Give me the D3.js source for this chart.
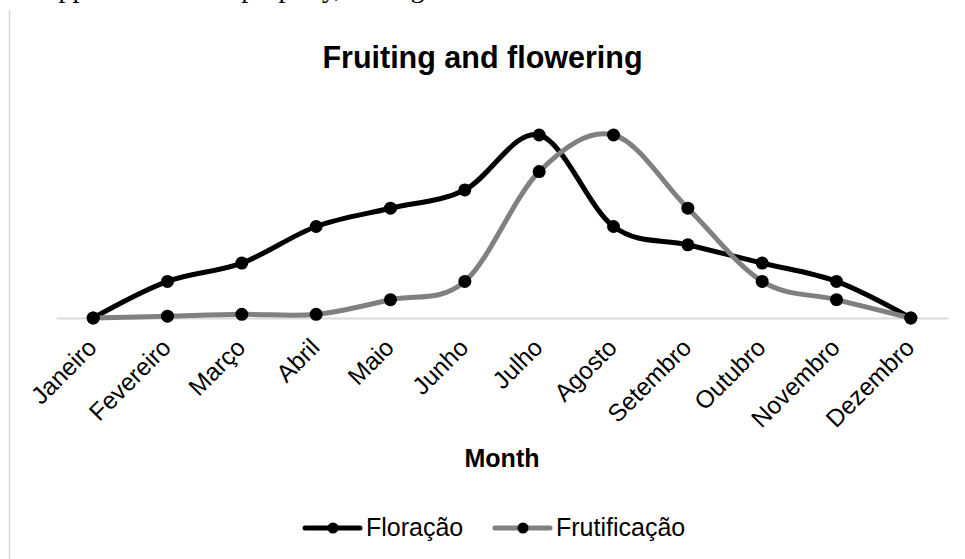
<!DOCTYPE html>
<html>
<head>
<meta charset="utf-8">
<script src="https://cdn.jsdelivr.net/npm/d3@7"></script>
<style>
  body { margin: 0; background: #fff; }
  svg { display: block; }
</style>
</head>
<body>
<div id="chart"></div>
<script>
const months = ['Janeiro', 'Fevereiro', 'Março', 'Abril', 'Maio', 'Junho',
  'Julho', 'Agosto', 'Setembro', 'Outubro', 'Novembro', 'Dezembro'];
const floracao = [0, 2, 3, 5, 6, 7, 10, 5, 4, 3, 2, 0];
const frutificacao = [0, 0.1, 0.2, 0.2, 1, 2, 8, 10, 6, 2, 1, 0];
const seriesNames = ['Floração', 'Frutificação'];
const seriesColors = ['#000000', '#808080'];

const width = 965, height = 559;
const font = 'Liberation Sans, Arial, sans-serif';

const svg = d3.select('#chart')
  .append('svg')
    .attr('width', width)
    .attr('height', height);

// cropped line of the surrounding document text
svg.append('text')
  .attr('x', -83).attr('y', -3)
  .attr('font-family', 'Liberation Serif, Times New Roman, serif')
  .attr('font-size', 28)
  .text('were well supported and fed properly, among the');

// chart frame (left edge only is visible)
svg.append('line')
  .attr('x1', 9.5).attr('x2', 9.5)
  .attr('y1', 10).attr('y2', height)
  .attr('stroke', '#d9d9d9').attr('stroke-width', 1.5);

const x = d3.scaleBand().domain(months).range([56, 948]);
const y = d3.scaleLinear().domain([0, 10]).range([318, 135]);

// category axis
const xAxis = svg.append('g')
  .attr('transform', `translate(0,${y(0)})`)
  .call(d3.axisBottom(x).tickSize(0).tickPadding(0));
xAxis.select('.domain').attr('stroke', '#d9d9d9').attr('stroke-width', 2);
xAxis.selectAll('.tick text')
  .attr('font-family', font)
  .attr('font-size', 24.5)
  .attr('fill', '#000')
  .attr('text-anchor', 'end')
  .attr('dy', null)
  .attr('y', 0)
  .attr('transform', 'translate(5,31) rotate(-45)');

const line = d3.line()
  .x((d, i) => x(months[i]) + x.bandwidth() / 2)
  .y(d => y(d))
  .curve(d3.curveCardinal.tension(0));

[floracao, frutificacao].forEach((vals, k) => {
  svg.append('path')
    .datum(vals)
    .attr('fill', 'none')
    .attr('stroke', seriesColors[k])
    .attr('stroke-width', 5)
    .attr('stroke-linejoin', 'round')
    .attr('stroke-linecap', 'round')
    .attr('d', line);
});
[floracao, frutificacao].forEach(vals => {
  svg.append('g').selectAll('circle')
    .data(vals)
    .enter().append('circle')
      .attr('cx', (d, i) => x(months[i]) + x.bandwidth() / 2)
      .attr('cy', d => y(d))
      .attr('r', 6.5)
      .attr('fill', '#000');
});

// titles
svg.append('text')
  .attr('x', 482.5).attr('y', 68)
  .attr('text-anchor', 'middle')
  .attr('font-family', font)
  .attr('font-size', 30.5)
  .attr('font-weight', 'bold')
  .text('Fruiting and flowering');

svg.append('text')
  .attr('x', 502).attr('y', 467)
  .attr('text-anchor', 'middle')
  .attr('font-family', font)
  .attr('font-size', 25)
  .attr('font-weight', 'bold')
  .text('Month');

// legend
const legendX = [305, 495];
const legend = svg.append('g').selectAll('g')
  .data(seriesNames)
  .enter().append('g')
    .attr('transform', (d, i) => `translate(${legendX[i]},528)`);
legend.append('line')
  .attr('x1', 0).attr('x2', 55)
  .attr('stroke', (d, i) => seriesColors[i])
  .attr('stroke-width', 5)
  .attr('stroke-linecap', 'round');
legend.append('circle')
  .attr('cx', 28).attr('r', 5.5)
  .attr('fill', '#000');
legend.append('text')
  .attr('x', 61).attr('y', 8)
  .attr('font-family', font)
  .attr('font-size', 25)
  .text(d => d);
</script>
</body>
</html>
